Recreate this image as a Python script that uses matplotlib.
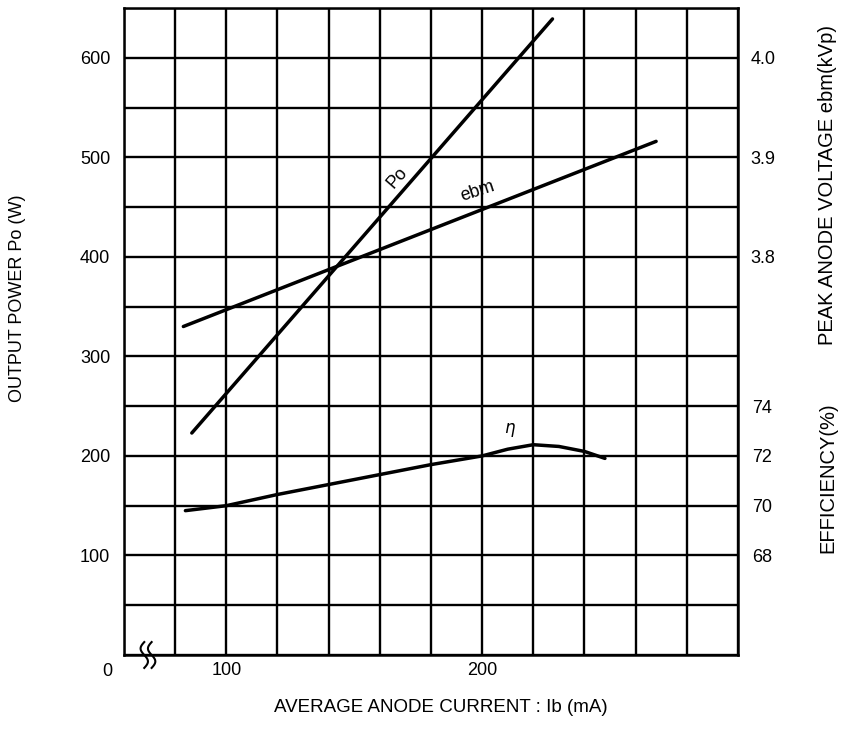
import numpy as np
import matplotlib
matplotlib.use('Agg')
import matplotlib.pyplot as plt

plt.rcParams['font.family'] = ['Liberation Sans', 'DejaVu Sans']

# datos
po_ib = [86.5, 227.5]            # mA
po_w = [223, 639]                # W

ebm_ib = [83.2, 268]             # mA
ebm_kv = [3.730, 3.916]          # kVp

eta_ib = [84, 100, 120, 140, 160, 180, 200, 210, 220, 230, 240, 248]
eta_pct = [69.8, 70.0, 70.45, 70.85, 71.25, 71.65, 72.0, 72.27, 72.45, 72.38, 72.18, 71.9]

x_ticks = np.arange(60, 301, 20)
x_labels = ['100' if t == 100 else '200' if t == 200 else '' for t in x_ticks]
y_ticks = np.arange(0, 651, 50)
y_labels = [str(t) if (t % 100 == 0 and 100 <= t <= 600) else '' for t in y_ticks]

ebm_ticks = [3.8, 3.9, 4.0]
eta_ticks = [68, 70, 72, 74]

fig = plt.figure(figsize=(8.43, 7.46), dpi=100)
ax = fig.add_axes([0.1471, 0.122, 0.7283, 0.8673])

ax.set_xlim(60, 300)
ax.set_ylim(0, 650)
ax.set_xticks(x_ticks)
ax.set_xticklabels(x_labels, fontsize=13)
ax.set_yticks(y_ticks)
ax.set_yticklabels(y_labels, fontsize=13)
ax.tick_params(length=0, pad=10)
ax.tick_params(axis='x', pad=5)
ax.grid(True, color='black', linewidth=1.7)
for s in ax.spines.values():
    s.set_linewidth(1.8)

# ejes derechos: tension de placa y eficiencia
ax_ebm = ax.twinx()
ax_ebm.set_ylim(3.4, 4.05)
ax_ebm.set_yticks(ebm_ticks)
ax_ebm.set_yticklabels(['3.8', '3.9', '4.0'], fontsize=13)
ax_ebm.tick_params(length=0, pad=9)

ax_eta = ax.twinx()
ax_eta.set_ylim(64, 90)
ax_eta.set_yticks(eta_ticks)
ax_eta.set_yticklabels([str(t) for t in eta_ticks], fontsize=13)
ax_eta.tick_params(length=0, pad=10)
for a in (ax_ebm, ax_eta):
    for s in a.spines.values():
        s.set_visible(False)

ax.plot(po_ib, po_w, color='black', linewidth=2.5, solid_capstyle='round')
ax_ebm.plot(ebm_ib, ebm_kv, color='black', linewidth=2.5, solid_capstyle='round')
ax_eta.plot(eta_ib, eta_pct, color='black', linewidth=2.5, solid_capstyle='round')

ax.text(167, 479, 'Po', fontsize=13, rotation=49, ha='center', va='center')
ax.text(198, 466, 'ebm', fontsize=13, rotation=18, ha='center', va='center')
ax.text(211, 226, r'$\eta$', fontsize=12, ha='center', va='center')

# simbolo de corte del eje
t = np.linspace(0, 1, 40)
for dx in (0.0, 0.012):
    xs = 0.033 + dx + 0.006 * np.sin(t * 2 * np.pi)
    ys = -0.02 + 0.04 * t
    ax.plot(xs, ys, color='black', linewidth=1.5, transform=ax.transAxes, clip_on=False)
ax.text(-0.027, -0.012, '0', fontsize=13, transform=ax.transAxes, ha='center', va='top')

fig.text(0.021, 0.60, 'OUTPUT POWER Po (W)', rotation=90, fontsize=13, ha='center', va='center')
fig.text(0.523, 0.052, 'AVERAGE ANODE CURRENT : Ib (mA)', fontsize=13.5, ha='center', va='center')
fig.text(0.982, 0.752, 'PEAK ANODE VOLTAGE ebm(kVp)', rotation=90, fontsize=14.5, ha='center', va='center')
fig.text(0.982, 0.36, 'EFFICIENCY(%)', rotation=90, fontsize=14.5, ha='center', va='center')

fig.savefig('out.png', dpi=100)
